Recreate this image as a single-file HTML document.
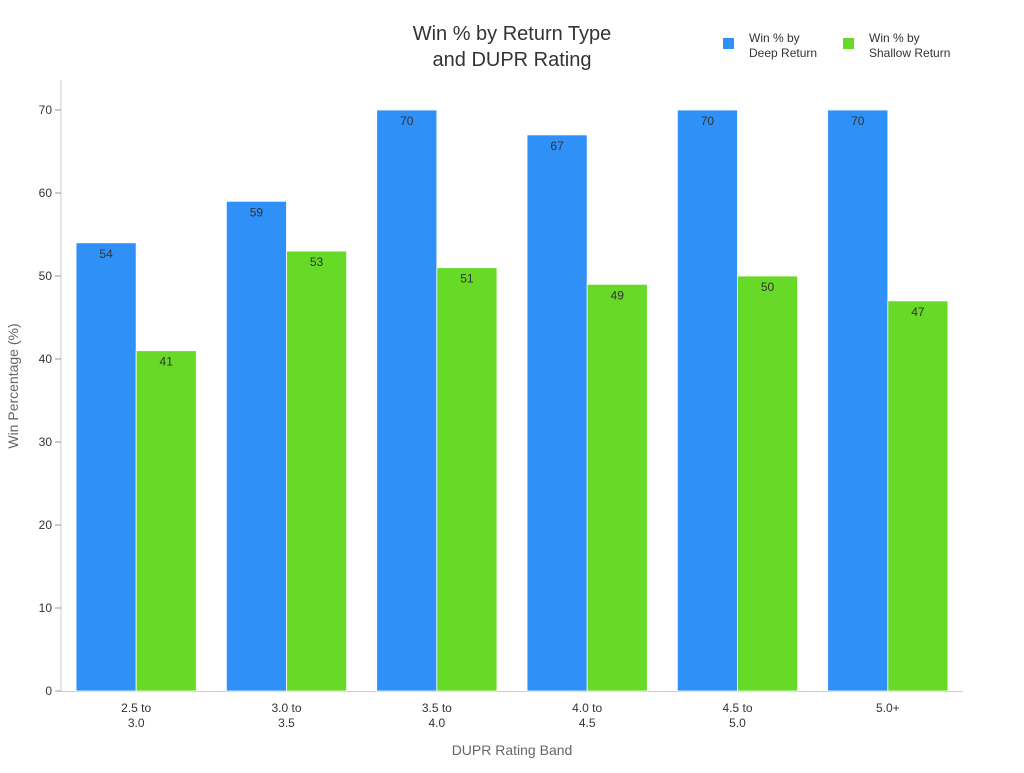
<!DOCTYPE html>
<html><head><meta charset="utf-8"><style>
body{margin:0;background:#fff;font-family:"Liberation Sans","DejaVu Sans",sans-serif}
</style></head><body>
<svg id="chart" width="1024" height="768" xmlns="http://www.w3.org/2000/svg" font-family="Liberation Sans, DejaVu Sans, sans-serif">
<text x="512" y="40" text-anchor="middle" font-size="20" fill="#333">Win % by Return Type</text>
<text x="512" y="66" text-anchor="middle" font-size="20" fill="#333">and DUPR Rating</text>
<g>
<rect x="723" y="38" width="11" height="11" fill="#2f91f8"/>
<text x="749" y="42" font-size="12" fill="#333">Win % by</text>
<text x="749" y="57" font-size="12" fill="#333">Deep Return</text>
<rect x="843" y="38" width="11" height="11" fill="#66da26"/>
<text x="869" y="42" font-size="12" fill="#333">Win % by</text>
<text x="869" y="57" font-size="12" fill="#333">Shallow Return</text>
</g>
<line x1="61" y1="80" x2="61" y2="691" stroke="#ccc"/>
<line x1="61" y1="691.5" x2="963" y2="691.5" stroke="#ccc"/>
<text transform="translate(18,386) rotate(-90)" text-anchor="middle" font-size="14" fill="#666">Win Percentage (%)</text>
<text x="512" y="755" text-anchor="middle" font-size="14" fill="#666">DUPR Rating Band</text>
<g id="marks"></g>
</svg>
<script>
const categories=[["2.5 to","3.0"],["3.0 to","3.5"],["3.5 to","4.0"],["4.0 to","4.5"],["4.5 to","5.0"],["5.0+"]];
const deepValues=[54,59,70,67,70,70];
const shallowValues=[41,53,51,49,50,47];
const yTicks=[0,10,20,30,40,50,60,70];
const NS="http://www.w3.org/2000/svg";
const x0=61,x1=963,yBase=691,yTop=110,yMax=70;
const band=(x1-x0)/categories.length;
const y=v=>yBase-(v/yMax)*(yBase-yTop);
const g=document.getElementById('marks');
function mk(t,a){const e=document.createElementNS(NS,t);for(const k in a)e.setAttribute(k,a[k]);g.appendChild(e);return e;}
yTicks.forEach(t=>{
 const l=mk('line',{x1:55,x2:61,y1:y(t),y2:y(t),stroke:'#999'});
 
 
 const tx=mk('text',{x:52,y:y(t)+4,'text-anchor':'end','font-size':12,fill:'#333'});tx.textContent=t;
 
 
});
categories.forEach((c,i)=>{
 const cx=x0+band*(i+0.5),bw=band*0.4;
 [[deepValues[i],cx-bw,'#2f91f8','bar-deep'],[shallowValues[i],cx,'#66da26','bar-shallow']].forEach(([v,bx,col,nm])=>{
  const r=mk('rect',{x:bx,y:y(v),width:bw,height:yBase-y(v),fill:col,stroke:'#fff','stroke-width':0.8});
  
  
  const t=mk('text',{x:bx+bw/2,y:y(v)+15,'text-anchor':'middle','font-size':12,fill:'#333'});t.textContent=v;
  
  
 });
 c.forEach((s,j)=>{
  const t=mk('text',{x:cx,y:712+j*15,'text-anchor':'middle','font-size':12,fill:'#333'});t.textContent=s;
  
  
 });
});
</script>
</body></html>
